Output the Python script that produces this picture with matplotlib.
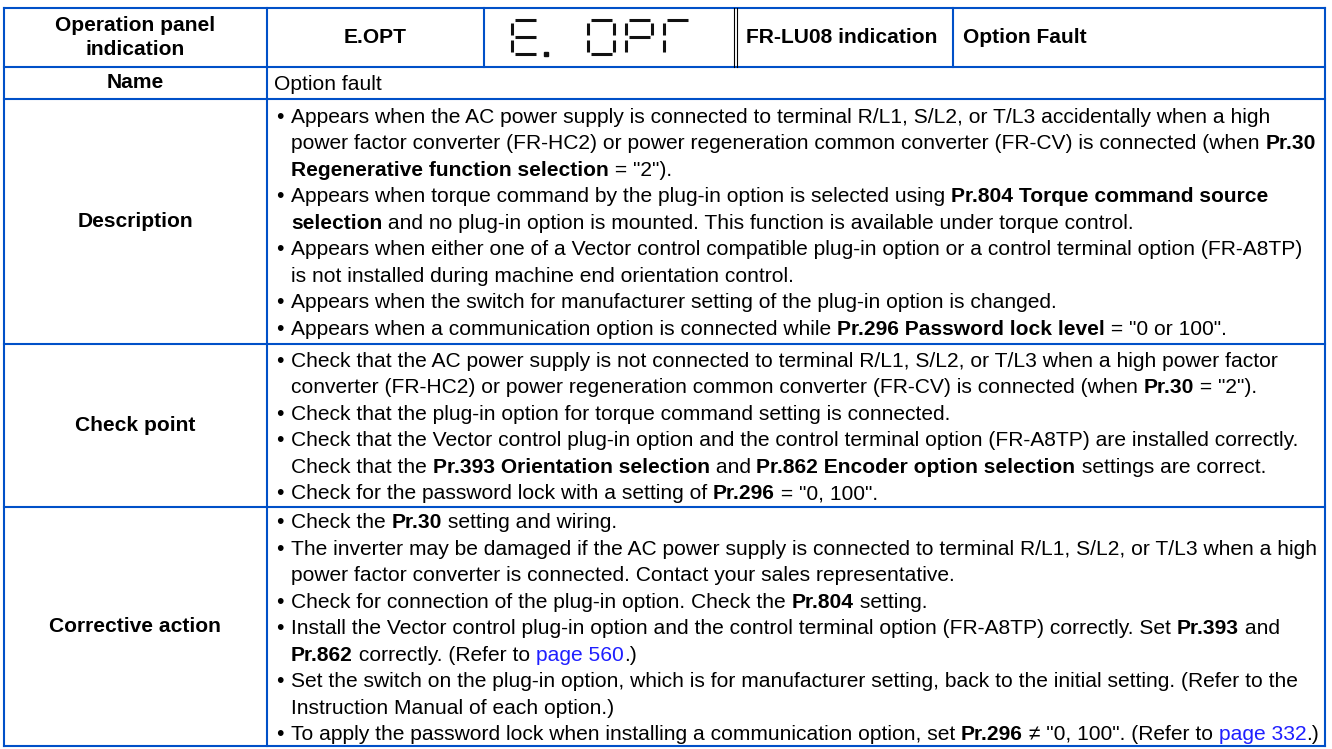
import re
import matplotlib
matplotlib.use("Agg")
import matplotlib.pyplot as plt

# ---- table content ----
HEADER_LABEL = "Operation panel\nindication"
ERROR_CODE = "E.OPT"
DISPLAY_CHARS = ["E.", " ", "O", "P", "T"]
LU08_LABEL = "FR-LU08 indication"
LU08_TEXT = "Option Fault"

ROW_LABELS = ["Name", "Description", "Check point", "Corrective action"]

NAME_LINES = ["Option fault"]

DESCRIPTION_LINES = [
    "• Appears when the AC power supply is connected to terminal R/L1, S/L2, or T/L3 accidentally when a high",
    "  power factor converter (FR-HC2) or power regeneration common converter (FR-CV) is connected (when **Pr.30**",
    "  **Regenerative function selection** = \"2\").",
    "• Appears when torque command by the plug-in option is selected using **Pr.804 Torque command source**",
    "  **selection** and no plug-in option is mounted. This function is available under torque control.",
    "• Appears when either one of a Vector control compatible plug-in option or a control terminal option (FR-A8TP)",
    "  is not installed during machine end orientation control.",
    "• Appears when the switch for manufacturer setting of the plug-in option is changed.",
    "• Appears when a communication option is connected while **Pr.296 Password lock level** = \"0 or 100\".",
]

CHECK_LINES = [
    "• Check that the AC power supply is not connected to terminal R/L1, S/L2, or T/L3 when a high power factor",
    "  converter (FR-HC2) or power regeneration common converter (FR-CV) is connected (when **Pr.30** = \"2\").",
    "• Check that the plug-in option for torque command setting is connected.",
    "• Check that the Vector control plug-in option and the control terminal option (FR-A8TP) are installed correctly.",
    "  Check that the **Pr.393 Orientation selection** and **Pr.862 Encoder option selection** settings are correct.",
    "• Check for the password lock with a setting of **Pr.296** = \"0, 100\".",
]

ACTION_LINES = [
    "• Check the **Pr.30** setting and wiring.",
    "• The inverter may be damaged if the AC power supply is connected to terminal R/L1, S/L2, or T/L3 when a high",
    "  power factor converter is connected. Contact your sales representative.",
    "• Check for connection of the plug-in option. Check the **Pr.804** setting.",
    "• Install the Vector control plug-in option and the control terminal option (FR-A8TP) correctly. Set **Pr.393** and",
    "  **Pr.862** correctly. (Refer to [[page 560]].)",
    "• Set the switch on the plug-in option, which is for manufacturer setting, back to the initial setting. (Refer to the",
    "  Instruction Manual of each option.)",
    "• To apply the password lock when installing a communication option, set **Pr.296** \u2260 \"0, 100\". (Refer to [[page 332]].)",
]

# 7-segment patterns
SEGMENTS = {"E": "adefg", "O": "abcdef", "P": "abefg", "T": "aef", " ": ""}

# ---- layout / style ----
FONT = "Liberation Sans"
FS = 15.1
PITCH = 26.5
BLUE = "#0050c8"
LINK = "#1f1fff"
LW = 1.5

COL_X = [4, 266.7, 484, 735.5, 952.7, 1325]
ROW_Y = [8, 66.5, 98.5, 344, 507, 746]

fig = plt.figure(figsize=(13.32, 7.49), dpi=100)
ax = fig.add_axes([0, 0, 1, 1])
ax.set_xlim(0, 1332)
ax.set_ylim(749, 0)
ax.axis("off")
renderer = fig.canvas.get_renderer()


def text_w(s, weight):
    # width including trailing spaces: measure against a bar glyph
    t1 = ax.text(0, 0, s + "|", fontsize=FS, family=FONT, weight=weight)
    t2 = ax.text(0, 0, "|", fontsize=FS, family=FONT, weight=weight)
    w = t1.get_window_extent(renderer).width - t2.get_window_extent(renderer).width
    t1.remove()
    t2.remove()
    return w


def draw_rich(x, y, line):
    for part in re.split(r"(\*\*.+?\*\*|\[\[.+?\]\])", line):
        if not part:
            continue
        bold = part.startswith("**")
        link = part.startswith("[[")
        s = part[2:-2] if (bold or link) else part
        weight = "bold" if bold else "normal"
        ax.text(x, y, s, fontsize=FS, family=FONT, weight=weight,
                color=LINK if link else "black", va="baseline", ha="left")
        x += text_w(s, weight)


BASE_OFF = 0.36 * FS * 100 / 72  # baseline below the line centre


def draw_block(lines, top, bottom):
    n = len(lines)
    y0 = (top + bottom) / 2 - n * PITCH / 2
    for i, line in enumerate(lines):
        yc = y0 + (i + 0.5) * PITCH
        yb = yc + BASE_OFF
        if line.startswith("• "):
            ax.text(276, yb, "•", fontsize=FS, family=FONT, va="baseline", ha="left")
            draw_rich(291, yb, line[2:])
        elif line.startswith("  "):
            draw_rich(291, yb, line[2:])
        else:
            draw_rich(274, yb, line)


# ---- grid lines ----
left, right = COL_X[0], COL_X[-1]
for y in ROW_Y:
    ax.plot([left, right], [y, y], color=BLUE, lw=LW, solid_capstyle="projecting")
ax.plot([left, left], [ROW_Y[0], ROW_Y[-1]], color=BLUE, lw=LW, solid_capstyle="projecting")
ax.plot([right, right], [ROW_Y[0], ROW_Y[-1]], color=BLUE, lw=LW, solid_capstyle="projecting")
ax.plot([COL_X[1]] * 2, [ROW_Y[0], ROW_Y[-1]], color=BLUE, lw=LW)
ax.plot([COL_X[2]] * 2, [ROW_Y[0], ROW_Y[1]], color=BLUE, lw=LW)
ax.plot([COL_X[4]] * 2, [ROW_Y[0], ROW_Y[1]], color=BLUE, lw=LW)
# double rule before the FR-LU08 cell
for dx in (-1.4, 1.4):
    ax.plot([COL_X[3] + dx] * 2, [ROW_Y[0], ROW_Y[1]], color="black", lw=0.8)

# ---- header row ----
hy = (ROW_Y[0] + ROW_Y[1]) / 2
ax.text((COL_X[0] + COL_X[1]) / 2, hy, HEADER_LABEL, fontsize=FS, family=FONT,
        weight="bold", ha="center", va="center", linespacing=1.35)
ax.text((COL_X[1] + COL_X[2]) / 2, hy, ERROR_CODE, fontsize=FS, family=FONT,
        weight="bold", ha="center", va="center")
ax.text(COL_X[3] + 10, hy, LU08_LABEL, fontsize=FS, family=FONT,
        weight="bold", ha="left", va="center")
ax.text(COL_X[4] + 10, hy, LU08_TEXT, fontsize=FS, family=FONT,
        weight="bold", ha="left", va="center")


# 7-segment display
def seven_seg(x0, y0, w, h, segs, dot=False):
    g = 2.5
    ym = y0 + h / 2
    geo = {
        "a": ([x0 + g, x0 + w - g], [y0, y0]),
        "b": ([x0 + w, x0 + w], [y0 + g, ym - g]),
        "c": ([x0 + w, x0 + w], [ym + g, y0 + h - g]),
        "d": ([x0 + g, x0 + w - g], [y0 + h, y0 + h]),
        "e": ([x0, x0], [ym + g, y0 + h - g]),
        "f": ([x0, x0], [y0 + g, ym - g]),
        "g": ([x0 + g, x0 + w - g], [ym, ym]),
    }
    for s in segs:
        xs, ys = geo[s]
        ax.plot(xs, ys, color="#111111", lw=2.2, solid_capstyle="butt")
    if dot:
        ax.plot([x0 + w + 8], [y0 + h], marker="s", ms=3.2, color="#111111")


cx = 512
for ch in DISPLAY_CHARS:
    seven_seg(cx, 20, 26, 34, SEGMENTS[ch[0]], dot=ch.endswith("."))
    cx += 38

# ---- body rows ----
for i, label in enumerate(ROW_LABELS):
    top, bottom = ROW_Y[i + 1], ROW_Y[i + 2]
    ax.text((COL_X[0] + COL_X[1]) / 2, (top + bottom) / 2, label, fontsize=FS,
            family=FONT, weight="bold", ha="center", va="center")

blocks = [NAME_LINES, DESCRIPTION_LINES, CHECK_LINES, ACTION_LINES]
for i, lines in enumerate(blocks):
    draw_block(lines, ROW_Y[i + 1], ROW_Y[i + 2])

fig.savefig("out.png", dpi=100, facecolor="white")
